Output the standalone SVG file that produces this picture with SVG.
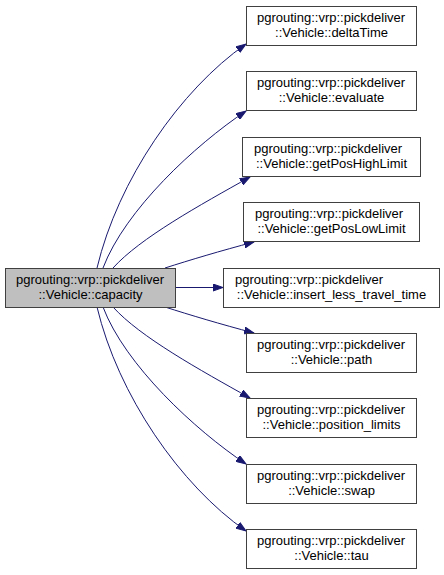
<svg xmlns="http://www.w3.org/2000/svg" width="444" height="575" viewBox="0 0 444 575">
<style>
.box{fill:#ffffff;stroke:#404040;stroke-width:1}
.main{fill:#bfbfbf;stroke:#404040;stroke-width:1}
text{font-family:"Liberation Sans",Arial,sans-serif;font-size:13px;fill:#000000}
.c{text-anchor:middle}
.edge{fill:none;stroke:#191970;stroke-width:1}
</style>
<defs>
<marker id="arr" markerUnits="userSpaceOnUse" markerWidth="11" markerHeight="8" viewBox="0 -4 11 8" refX="10" refY="0" orient="auto">
<path d="M0,-3.5 L10,0 L0,3.5 Z" fill="#191970" stroke="#191970" stroke-width="1"/>
</marker>
</defs>
<rect width="444" height="575" fill="#ffffff"/>
<g id="edges">
<path class="edge" marker-end="url(#arr)" d="M97,268 C118,180 180,90 246,44"/>
<path class="edge" marker-end="url(#arr)" d="M103,268 C125,210 195,145 246,111"/>
<path class="edge" marker-end="url(#arr)" d="M113,268 C140,238 200,205 250,177"/>
<path class="edge" marker-end="url(#arr)" d="M165,268 C190,260 220,251 254,242"/>
<path class="edge" marker-end="url(#arr)" d="M175,287.5 L223,287.5"/>
<path class="edge" marker-end="url(#arr)" d="M165,307 C190,315 220,324 254,333"/>
<path class="edge" marker-end="url(#arr)" d="M113,307 C140,337 200,370 250,398"/>
<path class="edge" marker-end="url(#arr)" d="M103,307 C125,365 195,430 246,464"/>
<path class="edge" marker-end="url(#arr)" d="M97,307 C118,395 180,485 246,531"/>
</g>
<g id="capacity">
<rect class="main" x="5.5" y="268.5" width="170" height="39"/>
<text><tspan x="16" y="284">pgrouting::vrp::pickdeliver</tspan><tspan class="c" x="90.5" y="299">::Vehicle::capacity</tspan></text>
</g>
<g id="deltaTime">
<rect class="box" x="246.5" y="6.5" width="170" height="39"/>
<text><tspan x="257" y="22">pgrouting::vrp::pickdeliver</tspan><tspan class="c" x="331.5" y="37">::Vehicle::deltaTime</tspan></text>
</g>
<g id="evaluate">
<rect class="box" x="246.5" y="71.5" width="170" height="39"/>
<text><tspan x="257" y="87">pgrouting::vrp::pickdeliver</tspan><tspan class="c" x="331.5" y="102">::Vehicle::evaluate</tspan></text>
</g>
<g id="getPosHighLimit">
<rect class="box" x="242.5" y="137.5" width="178" height="39"/>
<text><tspan x="254" y="153">pgrouting::vrp::pickdeliver</tspan><tspan class="c" x="331.5" y="168">::Vehicle::getPosHighLimit</tspan></text>
</g>
<g id="getPosLowLimit">
<rect class="box" x="243.5" y="202.5" width="176" height="39"/>
<text><tspan x="255" y="218">pgrouting::vrp::pickdeliver</tspan><tspan class="c" x="331.5" y="233">::Vehicle::getPosLowLimit</tspan></text>
</g>
<g id="insert_less_travel_time">
<rect class="box" x="223.5" y="268.5" width="216" height="39"/>
<text><tspan x="235" y="284">pgrouting::vrp::pickdeliver</tspan><tspan class="c" x="331.5" y="299">::Vehicle::insert_less_travel_time</tspan></text>
</g>
<g id="path">
<rect class="box" x="246.5" y="333.5" width="170" height="39"/>
<text><tspan x="257" y="349">pgrouting::vrp::pickdeliver</tspan><tspan class="c" x="331.5" y="364">::Vehicle::path</tspan></text>
</g>
<g id="position_limits">
<rect class="box" x="246.5" y="398.5" width="170" height="39"/>
<text><tspan x="257" y="414">pgrouting::vrp::pickdeliver</tspan><tspan class="c" x="331.5" y="429">::Vehicle::position_limits</tspan></text>
</g>
<g id="swap">
<rect class="box" x="246.5" y="464.5" width="170" height="39"/>
<text><tspan x="257" y="480">pgrouting::vrp::pickdeliver</tspan><tspan class="c" x="331.5" y="495">::Vehicle::swap</tspan></text>
</g>
<g id="tau">
<rect class="box" x="246.5" y="529.5" width="170" height="39"/>
<text><tspan x="257" y="545">pgrouting::vrp::pickdeliver</tspan><tspan class="c" x="331.5" y="560">::Vehicle::tau</tspan></text>
</g>
</svg>
